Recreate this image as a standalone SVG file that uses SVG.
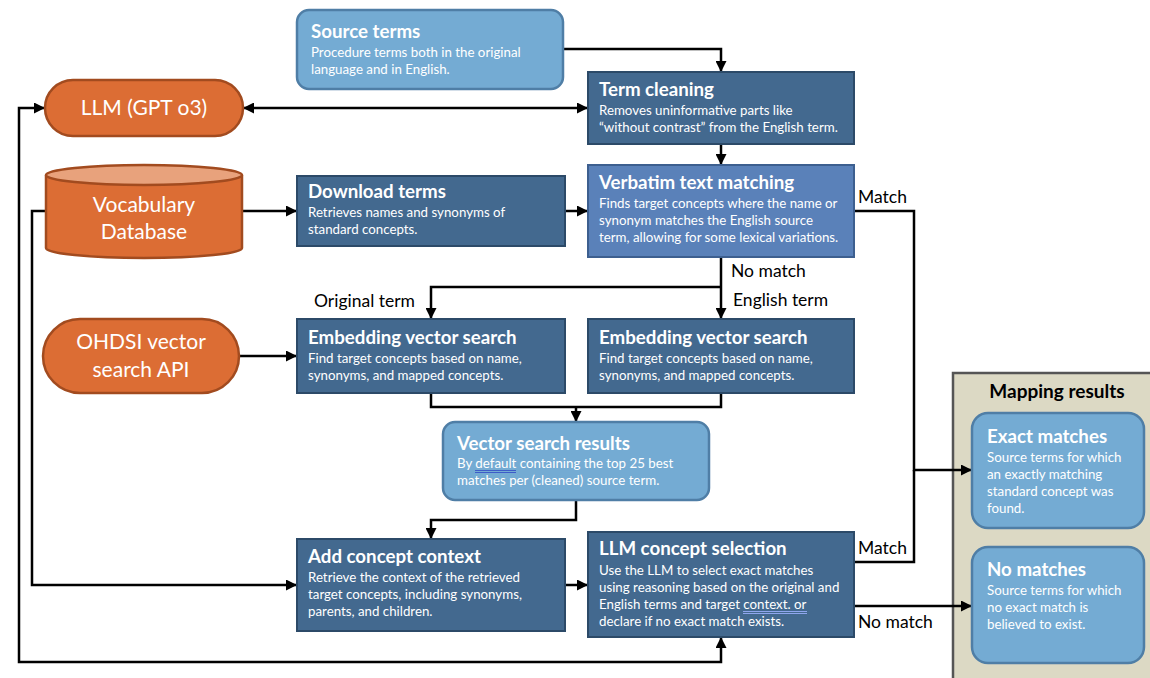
<svg xmlns="http://www.w3.org/2000/svg" width="1150" height="678" viewBox="0 0 1150 678">
<defs>
<marker id="arr" viewBox="0 0 10 10" refX="10" refY="5" markerWidth="11" markerHeight="11" markerUnits="userSpaceOnUse" orient="auto-start-reverse">
<path d="M0,0 L10,5 L0,10 z" fill="#000"/>
</marker>
<style>
.dark{fill:#43698f;stroke:#2c4a68;stroke-width:2}
.mid{fill:#5a81b9;stroke:#3d5f8f;stroke-width:2}
.light{fill:#74abd3;stroke:#4f7ea6;stroke-width:2.5}
.orange{fill:#dc6d34;stroke:#a24b1f;stroke-width:2.5}
.ttl{font-family:Lato,"Open Sans",sans-serif;font-weight:bold;font-size:18.7px;fill:#fff}
.bd{font-family:Lato,"Open Sans",sans-serif;font-size:13.3px;fill:#fff}
.big{font-family:Lato,"Open Sans",sans-serif;font-size:21px;fill:#fff;text-anchor:middle}
.lbl{font-family:Lato,"Open Sans",sans-serif;font-size:17.5px;fill:#000}
.con{fill:none;stroke:#000;stroke-width:2.5}
.ul{stroke:#8fa6ee;stroke-width:1}
</style>
</defs>
<rect width="1150" height="678" fill="#fff"/>

<g id="mapping-results">
<rect x="953" y="373" width="200" height="310" fill="#dcd9c4" stroke="#555" stroke-width="2.5"/>
<text x="1057" y="398" text-anchor="middle" font-family="Lato,'Open Sans',sans-serif" font-weight="bold" font-size="19px" fill="#000">Mapping results</text>
</g>

<g id="connectors">
<path class="con" d="M563,49 H721 V72" marker-end="url(#arr)"/>
<path class="con" d="M243,108 H588" marker-start="url(#arr)" marker-end="url(#arr)"/>
<path class="con" d="M721,144 V165" marker-end="url(#arr)"/>
<path class="con" d="M242,211 H297" marker-end="url(#arr)"/>
<path class="con" d="M565,211 H588" marker-end="url(#arr)"/>
<path class="con" d="M854,211 H914 V470 H972" marker-end="url(#arr)"/>
<path class="con" d="M854,562 H914 V470"/>
<path class="con" d="M721,257 V319" marker-end="url(#arr)"/>
<path class="con" d="M721,287 H431 V319" marker-end="url(#arr)"/>
<path class="con" d="M239,356 H297" marker-end="url(#arr)"/>
<path class="con" d="M431,393 V407 H721 V393"/>
<path class="con" d="M576,407 V422" marker-end="url(#arr)"/>
<path class="con" d="M576,500 V520 H431 V539" marker-end="url(#arr)"/>
<path class="con" d="M46,211 H32 V585 H297" marker-end="url(#arr)"/>
<path class="con" d="M45,108 H19 V662 H721 V637" marker-start="url(#arr)" marker-end="url(#arr)"/>
<path class="con" d="M565,585 H588" marker-end="url(#arr)"/>
<path class="con" d="M854,606 H972" marker-end="url(#arr)"/>
<text class="lbl" x="858" y="203">Match</text>
<text class="lbl" x="731" y="277">No match</text>
<text class="lbl" x="415" y="307" text-anchor="end">Original term</text>
<text class="lbl" x="733" y="306">English term</text>
<text class="lbl" x="858" y="554">Match</text>
<text class="lbl" x="858" y="628">No match</text>
</g>

<g id="source-terms">
<rect class="light" x="297" y="10" width="266" height="79" rx="12"/>
<text class="ttl" x="311" y="38">Source terms</text>
<text class="bd" x="311" y="57">Procedure terms both in the original</text>
<text class="bd" x="311" y="74">language and in English.</text>
</g>

<g id="llm">
<rect class="orange" x="45" y="80" width="198" height="56" rx="28"/>
<text class="big" x="144" y="115">LLM (GPT o3)</text>
</g>

<g id="term-cleaning">
<rect class="dark" x="588" y="72" width="266" height="72"/>
<text class="ttl" x="599" y="96">Term cleaning</text>
<text class="bd" x="599" y="115">Removes uninformative parts like</text>
<text class="bd" x="599" y="132">“without contrast” from the English term.</text>
</g>

<g id="vocabulary-database">
<path class="orange" d="M46,175 V248 A98,10 0 0 0 242,248 V175"/>
<ellipse cx="144" cy="175" rx="98" ry="10" fill="#e8a27c" stroke="#a24b1f" stroke-width="2.5"/>
<text class="big" x="144" y="212">Vocabulary</text>
<text class="big" x="144" y="239">Database</text>
</g>

<g id="download-terms">
<rect class="dark" x="297" y="176" width="268" height="70"/>
<text class="ttl" x="308" y="198">Download terms</text>
<text class="bd" x="308" y="217">Retrieves names and synonyms of</text>
<text class="bd" x="308" y="234">standard concepts.</text>
</g>

<g id="verbatim-text-matching">
<rect class="mid" x="588" y="165" width="266" height="92"/>
<text class="ttl" x="599" y="189">Verbatim text matching</text>
<text class="bd" x="599" y="208">Finds target concepts where the name or</text>
<text class="bd" x="599" y="225">synonym matches the English source</text>
<text class="bd" x="599" y="242">term, allowing for some lexical variations.</text>
</g>

<g id="ohdsi-api">
<rect class="orange" x="43" y="319" width="196" height="74" rx="37"/>
<text class="big" x="141" y="349">OHDSI vector</text>
<text class="big" x="141" y="377">search API</text>
</g>

<g id="embedding-original">
<rect class="dark" x="297" y="319" width="268" height="74"/>
<text class="ttl" x="308" y="344">Embedding vector search</text>
<text class="bd" x="308" y="363">Find target concepts based on name,</text>
<text class="bd" x="308" y="380">synonyms, and mapped concepts.</text>
</g>

<g id="embedding-english">
<rect class="dark" x="588" y="319" width="266" height="74"/>
<text class="ttl" x="599" y="344">Embedding vector search</text>
<text class="bd" x="599" y="363">Find target concepts based on name,</text>
<text class="bd" x="599" y="380">synonyms, and mapped concepts.</text>
</g>

<g id="vector-search-results">
<rect class="light" x="443" y="422" width="266" height="78" rx="12"/>
<text class="ttl" x="457" y="450">Vector search results</text>
<text class="bd" x="457" y="468" font-size="12.3px">By default containing the top 25 best</text>
<text class="bd" x="457" y="485" font-size="12.3px">matches per (cleaned) source term.</text>
<path class="ul" style="stroke:#3d5cc8" d="M475,470.5 H516 M475,472.5 H516"/>
</g>

<g id="add-concept-context">
<rect class="dark" x="297" y="539" width="268" height="92"/>
<text class="ttl" x="308" y="563">Add concept context</text>
<text class="bd" x="308" y="582">Retrieve the context of the retrieved</text>
<text class="bd" x="308" y="599">target concepts, including synonyms,</text>
<text class="bd" x="308" y="616">parents, and children.</text>
</g>

<g id="llm-concept-selection">
<rect class="dark" x="588" y="532" width="266" height="105"/>
<text class="ttl" x="599" y="555">LLM concept selection</text>
<text class="bd" x="599" y="575">Use the LLM to select exact matches</text>
<text class="bd" x="599" y="592">using reasoning based on the original and</text>
<text class="bd" x="599" y="609">English terms and target context. or</text>
<text class="bd" x="599" y="626">declare if no exact match exists.</text>
<path class="ul" d="M743,611.5 H807 M743,613.5 H807"/>
</g>

<g id="exact-matches">
<rect class="light" x="972" y="413" width="172" height="115" rx="16"/>
<text class="ttl" x="987" y="443">Exact matches</text>
<text class="bd" x="987" y="462">Source terms for which</text>
<text class="bd" x="987" y="479">an exactly matching</text>
<text class="bd" x="987" y="496">standard concept was</text>
<text class="bd" x="987" y="513">found.</text>
</g>

<g id="no-matches">
<rect class="light" x="972" y="547" width="172" height="116" rx="16"/>
<text class="ttl" x="987" y="576">No matches</text>
<text class="bd" x="987" y="595">Source terms for which</text>
<text class="bd" x="987" y="612">no exact match is</text>
<text class="bd" x="987" y="629">believed to exist.</text>
</g>
</svg>
